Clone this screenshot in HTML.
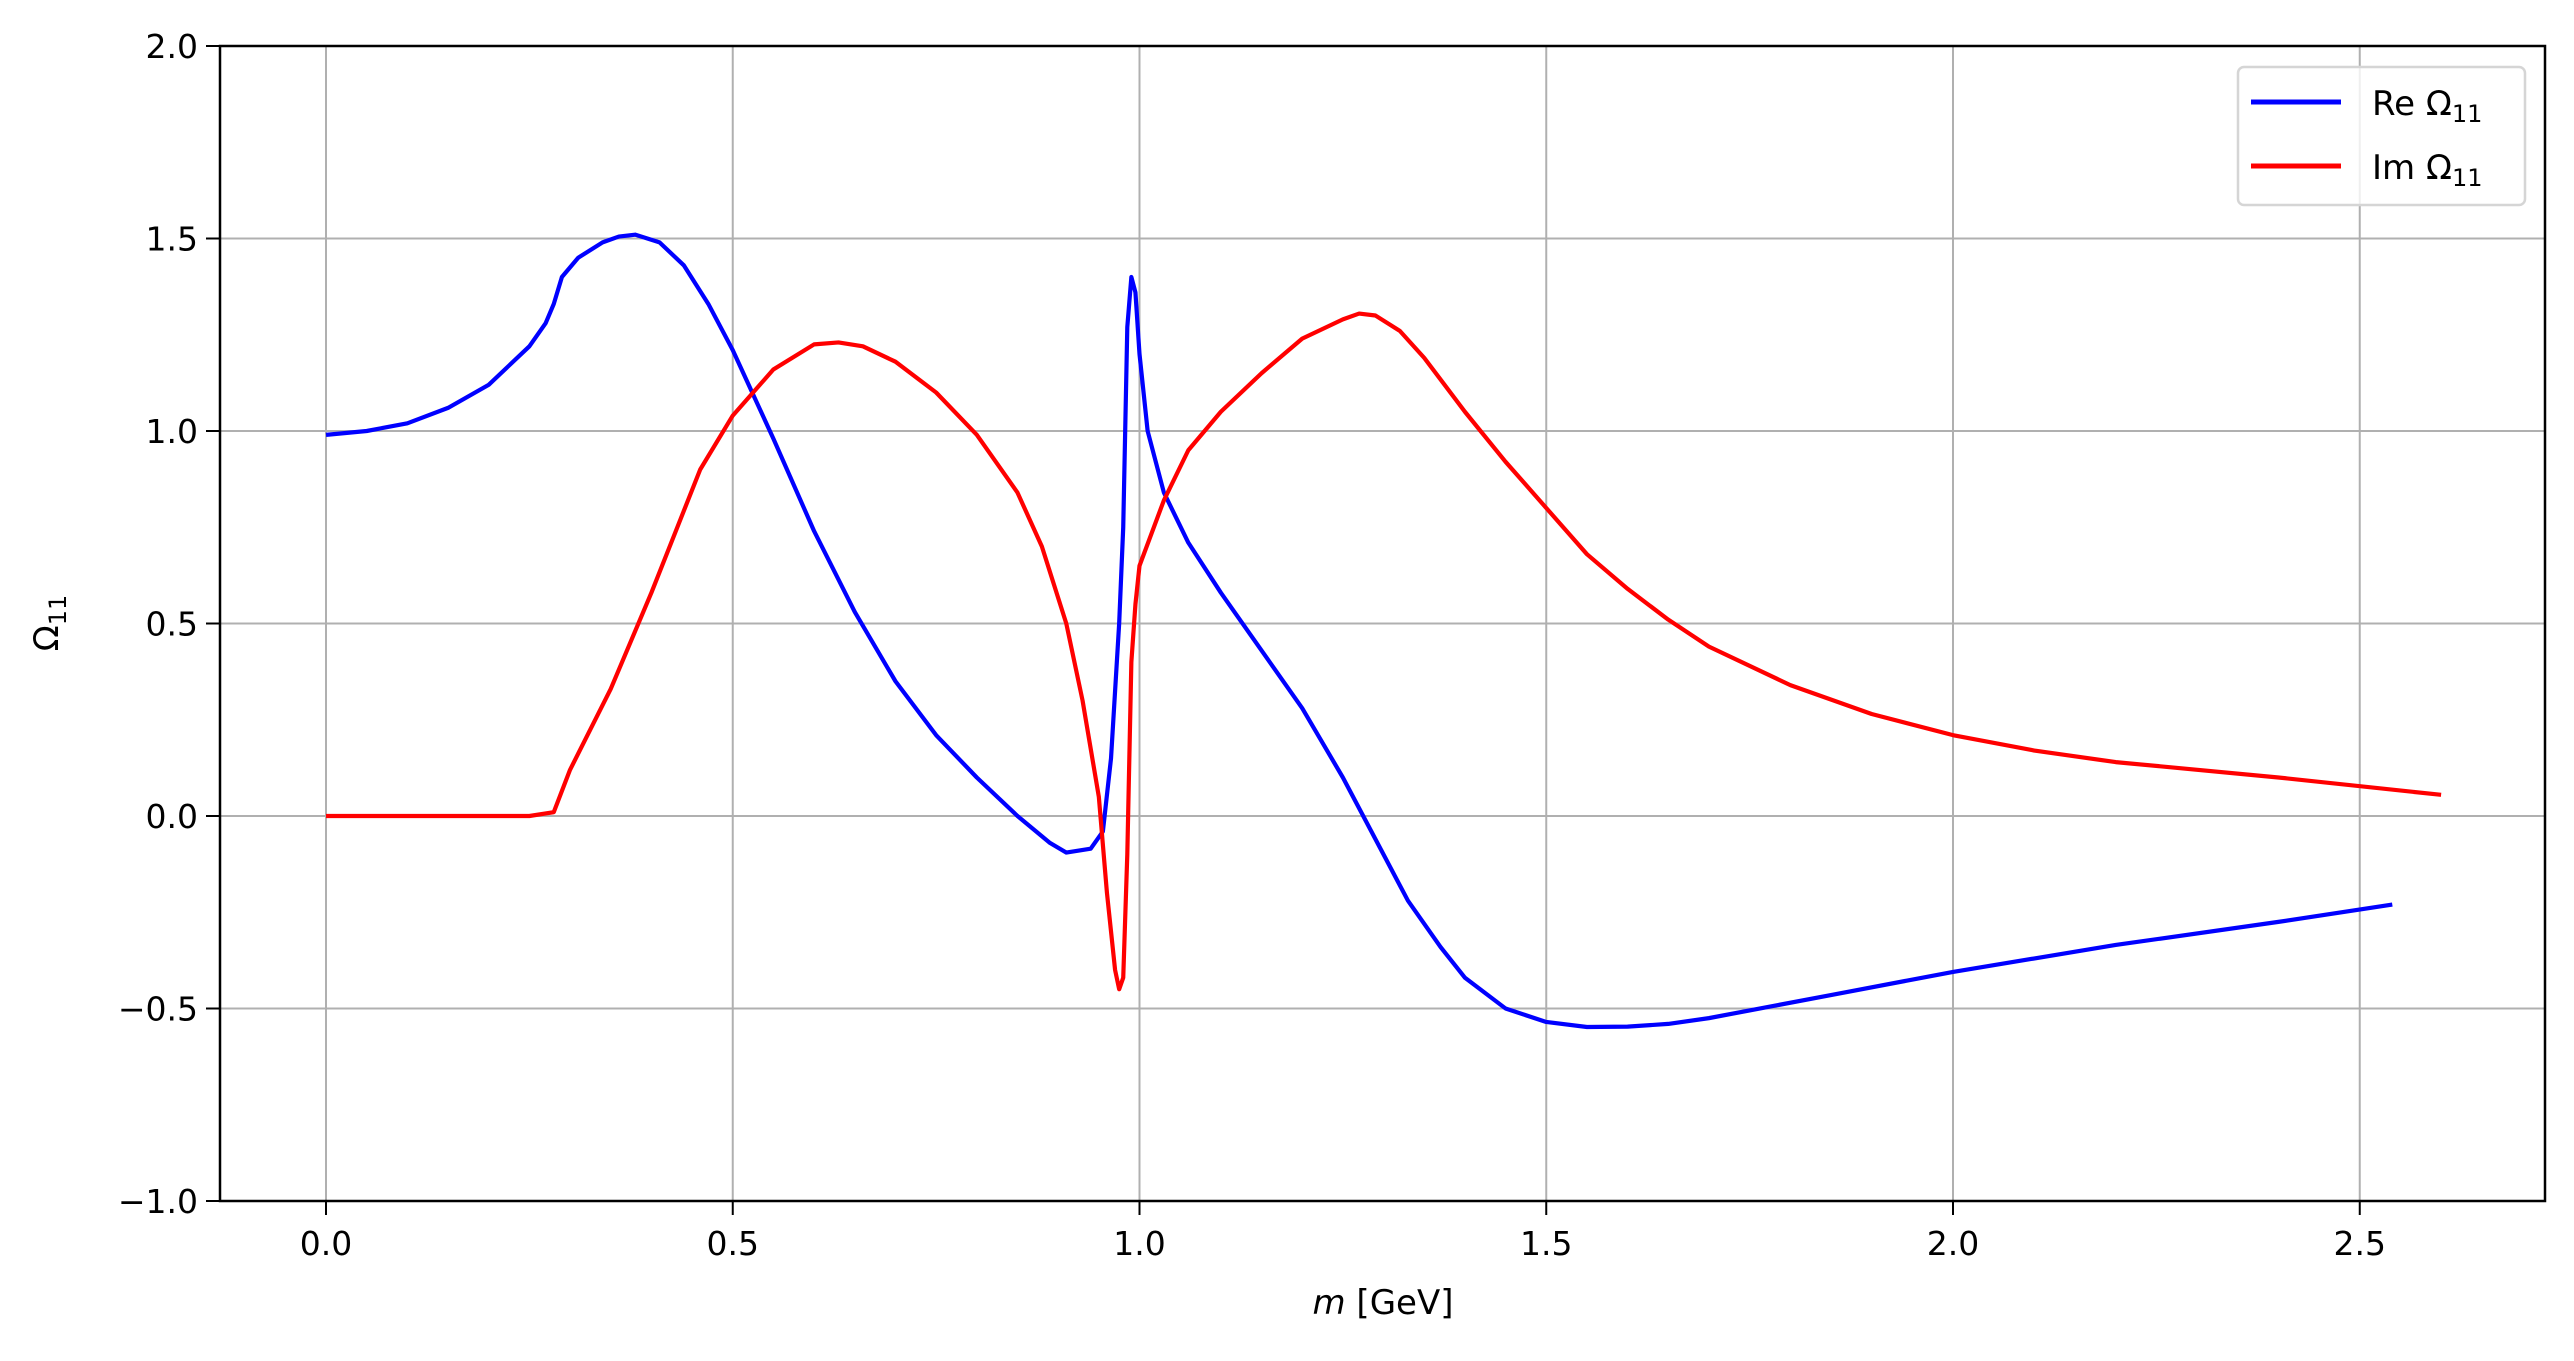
<!DOCTYPE html>
<html><head><meta charset="utf-8"><style>
body{margin:0;background:#fff}
svg{display:block;font-family:"DejaVu Sans","Liberation Sans",sans-serif}
</style></head><body>
<svg id="chart" width="2574" height="1361"></svg>
<script>
const reX=[0,0.05,0.1,0.15,0.2,0.25,0.27,0.28,0.29,0.31,0.34,0.36,0.38,0.41,0.44,0.47,0.5,0.55,0.6,0.65,0.7,0.75,0.8,0.85,0.89,0.91,0.94,0.955,0.965,0.975,0.98,0.985,0.99,0.995,1.0,1.01,1.03,1.06,1.1,1.15,1.2,1.25,1.3,1.33,1.37,1.4,1.45,1.5,1.55,1.6,1.65,1.7,1.75,1.85,2.0,2.2,2.4,2.54];
const reY=[0.99,1.0,1.02,1.06,1.12,1.22,1.28,1.33,1.40,1.45,1.49,1.505,1.51,1.49,1.43,1.33,1.21,0.98,0.74,0.53,0.35,0.21,0.1,0.0,-0.07,-0.095,-0.085,-0.04,0.15,0.5,0.75,1.27,1.4,1.36,1.2,1.0,0.84,0.71,0.58,0.43,0.28,0.1,-0.1,-0.22,-0.34,-0.42,-0.5,-0.535,-0.548,-0.547,-0.54,-0.525,-0.505,-0.465,-0.405,-0.335,-0.275,-0.23];
const imX=[0,0.25,0.28,0.3,0.35,0.4,0.43,0.46,0.5,0.55,0.6,0.63,0.66,0.7,0.75,0.8,0.85,0.88,0.91,0.93,0.95,0.96,0.97,0.975,0.98,0.985,0.99,0.995,1.0,1.03,1.06,1.1,1.15,1.2,1.25,1.27,1.29,1.32,1.35,1.4,1.45,1.5,1.55,1.6,1.65,1.7,1.8,1.9,2.0,2.1,2.2,2.4,2.6];
const imY=[0,0,0.01,0.12,0.33,0.58,0.74,0.9,1.04,1.16,1.225,1.23,1.22,1.18,1.10,0.99,0.84,0.7,0.5,0.3,0.05,-0.2,-0.4,-0.45,-0.42,-0.1,0.4,0.55,0.65,0.82,0.95,1.05,1.15,1.24,1.29,1.305,1.3,1.26,1.19,1.05,0.92,0.8,0.68,0.59,0.51,0.44,0.34,0.265,0.21,0.17,0.14,0.1,0.055];
const xTicks=[0,0.5,1.0,1.5,2.0,2.5];
const xTickLabels=["0.0","0.5","1.0","1.5","2.0","2.5"];
const yTicks=[-1,-0.5,0,0.5,1,1.5,2];
const yTickLabels=["\u22121.0","\u22120.5","0.0","0.5","1.0","1.5","2.0"];

const L=220,R=2545,T=46,B=1201;
const sx=v=>326+v*813.5;
const sy=v=>816-v*385;
const NS="http://www.w3.org/2000/svg";
const svg=document.getElementById('chart');
function mk(tag,attrs,parent){const e=document.createElementNS(NS,tag);for(const k in attrs)e.setAttribute(k,attrs[k]);(parent||svg).appendChild(e);return e;}

xTicks.forEach((v,i)=>{
  const g=mk('line',{x1:sx(v),x2:sx(v),y1:T,y2:B,stroke:'#b0b0b0','stroke-width':2});
  
  
  mk('line',{x1:sx(v),x2:sx(v),y1:B,y2:B+14,stroke:'#000','stroke-width':2});
  const t=mk('text',{x:sx(v),y:B+54,'font-size':33,'text-anchor':'middle'});
  t.textContent=xTickLabels[i];
  
  
});
yTicks.forEach((v,i)=>{
  const g=mk('line',{x1:L,x2:R,y1:sy(v),y2:sy(v),stroke:'#b0b0b0','stroke-width':2});
  
  
  mk('line',{x1:L-14,x2:L,y1:sy(v),y2:sy(v),stroke:'#000','stroke-width':2});
  const t=mk('text',{x:L-22,y:sy(v)+12,'font-size':33,'text-anchor':'end'});
  t.textContent=yTickLabels[i];
  
  
});
function line(xs,ys,color,name){
  const p=mk('polyline',{points:xs.map((x,i)=>sx(x)+','+sy(ys[i])).join(' '),fill:'none',stroke:color,'stroke-width':4.2,'stroke-linejoin':'round'});
  
  
}
line(reX,reY,'#0000ff','re-omega-line');
line(imX,imY,'#ff0000','im-omega-line');
const fr=mk('rect',{x:L,y:T,width:R-L,height:B-T,fill:'none',stroke:'#000','stroke-width':2.5});


</script>
<svg style="position:absolute;left:0;top:0" width="2574" height="1361">
<text x="1383" y="1314" font-size="34" text-anchor="middle" font-family="DejaVu Sans,sans-serif"><tspan font-style="italic">m</tspan> [GeV]</text>
<text transform="translate(58,623) rotate(-90)" font-size="34" text-anchor="middle" font-family="DejaVu Sans,sans-serif">Ω<tspan font-size="24" dy="8">11</tspan></text>
<g>
<rect x="2238" y="67" width="287" height="138" rx="6" fill="rgba(255,255,255,0.8)" stroke="#d5d5d5" stroke-width="2.5"/>
<line x1="2251" x2="2341" y1="102" y2="102" stroke="#0000ff" stroke-width="5"/>
<text x="2372" y="115" font-size="34" font-family="DejaVu Sans,sans-serif">Re Ω<tspan font-size="24" dy="7">11</tspan></text>
<line x1="2251" x2="2341" y1="166" y2="166" stroke="#ff0000" stroke-width="5"/>
<text x="2372" y="179" font-size="34" font-family="DejaVu Sans,sans-serif">Im Ω<tspan font-size="24" dy="7">11</tspan></text>
</g>
</svg>
</body></html>
